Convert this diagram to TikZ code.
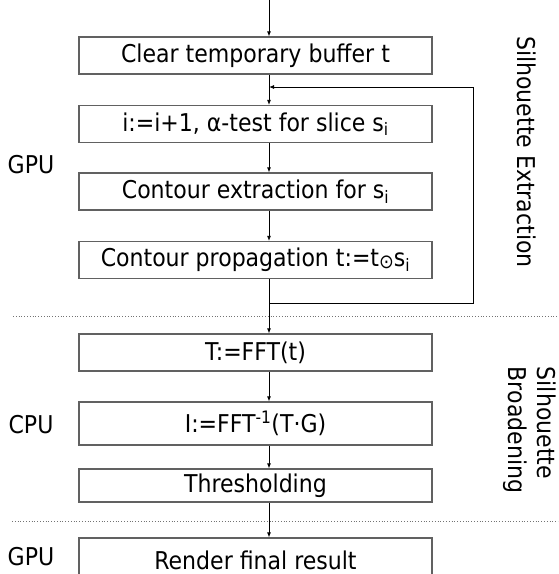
\documentclass[tikz,border=0pt]{standalone}
\usepackage{fontspec}
\setmainfont{DejaVu Sans Condensed}
\usetikzlibrary{arrows.meta}
\begin{document}
\begin{tikzpicture}[x=1pt,y=-1pt,
  stepbox/.style={draw=black!62, line width=1.3pt, minimum width=353pt,
    minimum height=37pt, inner sep=0pt, font=\fontsize{24.5}{29}\selectfont},
  flow/.style={draw=black, line width=0.8pt, -{Latex[length=5pt,width=4pt]}},
  sep/.style={draw=black!55, line width=0.8pt, dotted},
  side/.style={font=\fontsize{24.5}{29}\selectfont}]
\useasboundingbox (0,0) rectangle (558,574);

% processing steps
\node[stepbox] (b1) at (255.5,55.5) {Clear temporary buffer t};
\node[stepbox] (b2) at (255.5,124) {i:=i+1, α-test for slice s\textsubscript{i}};
\node[stepbox] (b3) at (255.5,191.5) {Contour extraction for s\textsubscript{i}};
\node[stepbox] (b4) at (255.5,260) {Contour propagation t:=t\raisebox{-0.15ex}{\scalebox{0.8}{⊙}}s\textsubscript{i}};
\node[stepbox] (b5) at (255.5,352.5) {T:=FFT(t)};
\node[stepbox, minimum height=43pt] (b6) at (255.5,423.5) {I:=FFT\textsuperscript{-1}(T·G)};
\node[stepbox, minimum height=33pt] (b7) at (255.5,485.5) {Thresholding};
\node[stepbox, minimum height=44pt] (b8) at (255.5,560) {Render final result};

% flow axis and loop corners
\coordinate (ax) at (269,0);
\coordinate (top) at (269,0);
\coordinate (loopin) at (269,87);
\coordinate (loopr1) at (473,87);
\coordinate (loopr2) at (473,303);
\coordinate (loopout) at (269,303);

\draw[flow] (top) -- (b1.north -| ax);
\draw[flow] (b1.south -| ax) -- (b2.north -| ax);
\draw[flow] (b2.south -| ax) -- (b3.north -| ax);
\draw[flow] (b3.south -| ax) -- (b4.north -| ax);
\draw[flow] (b4.south -| ax) -- (b5.north -| ax);
\draw[flow] (b5.south -| ax) -- (b6.north -| ax);
\draw[flow] (b6.south -| ax) -- (b7.north -| ax);
\draw[flow] (b7.south -| ax) -- (b8.north -| ax);

% feedback loop for the next slice
\draw[flow] (loopout) -- (loopr2) -- (loopr1) -- (loopin);

% stage separators
\coordinate (s1l) at (13,316);
\coordinate (s1r) at (558,316);
\coordinate (s2l) at (12,521);
\coordinate (s2r) at (558,521);
\draw[sep] (s1l) -- (s1r);
\draw[sep] (s2l) -- (s2r);

% processor labels
\node[side] (gpu1) at (31,165) {GPU};
\node[side] (cpu) at (31,425) {CPU};
\node[side] (gpu2) at (31,557) {GPU};

% stage labels
\node[side, rotate=-90] (st1) at (527,152) {Silhouette Extraction};
\node[side, rotate=-90, align=left] (st2) at (530,430) {Silhouette\\Broadening};
\end{tikzpicture}
\end{document}
